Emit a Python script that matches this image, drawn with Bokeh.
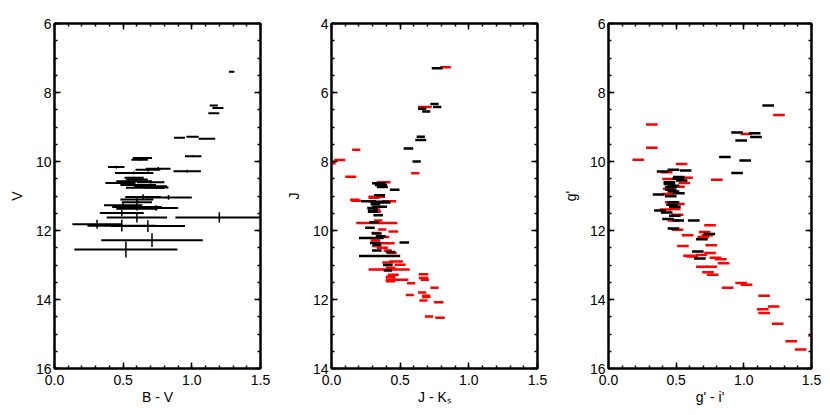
from bokeh.plotting import figure
from bokeh.models import (Range1d, LinearAxis, SingleIntervalTicker, NumeralTickFormatter,
                          CustomLabelingPolicy)
from bokeh.layouts import row
from bokeh.embed import file_html
from bokeh.resources import INLINE

# ---------------- Panel 1: V vs B-V ----------------
bv = [1.29, 1.16, 1.19, 1.16, 0.91, 1.005, 1.11, 1.01, 0.64, 0.62, 0.45, 0.755, 0.68, 0.966,
      0.58, 0.58, 0.60, 0.58, 0.48, 0.70, 0.61, 0.70, 0.75, 0.66, 0.645, 0.83, 0.60, 0.60,
      0.50, 0.60, 0.74, 0.60, 0.49, 0.60, 1.20, 0.31, 0.49, 0.68, 0.71, 0.52]
v = [7.40, 8.38, 8.45, 8.60, 9.31, 9.28, 9.34, 9.85, 9.90, 9.95, 10.16, 10.21, 10.24, 10.28,
     10.33, 10.47, 10.52, 10.57, 10.62, 10.60, 10.68, 10.72, 10.75, 10.76, 11.03, 11.04, 11.10, 11.18,
     11.27, 11.32, 11.35, 11.37, 11.49, 11.62, 11.62, 11.82, 11.86, 11.87, 12.28, 12.55]
bv_err = [0.02, 0.03, 0.04, 0.04, 0.04, 0.045, 0.06, 0.06, 0.07, 0.06, 0.06, 0.09, 0.09, 0.10,
          0.14, 0.07, 0.08, 0.13, 0.11, 0.10, 0.13, 0.12, 0.08, 0.14, 0.13, 0.17, 0.12, 0.11,
          0.14, 0.18, 0.16, 0.15, 0.16, 0.22, 0.32, 0.18, 0.25, 0.27, 0.37, 0.375]
v_err = [0.01, 0.01, 0.01, 0.01, 0.01, 0.01, 0.01, 0.03, 0.03, 0.03, 0.04, 0.05, 0.05, 0.04,
         0.04, 0.03, 0.03, 0.03, 0.04, 0.04, 0.03, 0.05, 0.05, 0.04, 0.08, 0.07, 0.05, 0.08,
         0.07, 0.05, 0.08, 0.05, 0.10, 0.15, 0.15, 0.13, 0.17, 0.17, 0.20, 0.23]

# ---------------- Panel 2: J vs J-Ks ----------------
jk_black = [0.77, 0.75, 0.77, 0.66, 0.69, 0.65, 0.65, 0.56, 0.62, 0.345, 0.36, 0.37, 0.46, 0.35,
            0.27, 0.35, 0.38, 0.32, 0.35, 0.30, 0.30, 0.30, 0.34, 0.31, 0.28, 0.33, 0.36, 0.29,
            0.53, 0.32, 0.33, 0.33, 0.43, 0.35, 0.41, 0.41]
j_black = [5.30, 6.33, 6.42, 6.47, 6.55, 7.28, 7.38, 7.62, 8.00, 8.63, 8.68, 8.74, 8.82, 8.98,
           9.15, 9.17, 9.19, 9.24, 9.31, 9.35, 9.42, 9.46, 9.56, 9.76, 9.92, 10.09, 10.17, 10.22,
           10.35, 10.36, 10.41, 10.58, 10.62, 10.74, 11.00, 11.16]
jk_black_err = [0.04, 0.03, 0.03, 0.03, 0.03, 0.03, 0.04, 0.035, 0.03, 0.05, 0.045, 0.04, 0.035, 0.04,
                0.055, 0.07, 0.05, 0.035, 0.055, 0.04, 0.035, 0.035, 0.035, 0.035, 0.035, 0.035, 0.035, 0.09,
                0.035, 0.04, 0.03, 0.035, 0.035, 0.15, 0.035, 0.03]

jk_red = [0.83, 0.68, 0.18, 0.06, 0.01, 0.61, 0.14, 0.38, 0.33, 0.31, 0.17, 0.18, 0.42, 0.33,
          0.34, 0.34, 0.33, 0.37, 0.45, 0.32, 0.37, 0.32, 0.40, 0.33, 0.37, 0.41, 0.44, 0.47,
          0.41, 0.50, 0.43, 0.42, 0.45, 0.67, 0.43, 0.67, 0.43, 0.50, 0.68, 0.43, 0.58, 0.75,
          0.66, 0.57, 0.69, 0.69, 0.67, 0.78, 0.71, 0.79]
j_red = [5.27, 6.42, 7.66, 7.96, 8.05, 8.34, 8.44, 8.60, 9.02, 9.05, 9.11, 9.14, 9.15, 9.40,
         9.46, 9.71, 9.78, 9.97, 10.03, 10.07, 10.19, 10.29, 10.37, 10.45, 10.50, 10.58, 10.65, 10.90,
         10.93, 10.99, 11.08, 11.13, 11.28, 11.27, 11.34, 11.38, 11.42, 11.43, 11.43, 11.47, 11.53, 11.66,
         11.80, 11.87, 11.89, 11.93, 12.03, 12.08, 12.49, 12.53]
jk_red_err = [0.04, 0.05, 0.03, 0.04, 0.02, 0.03, 0.04, 0.05, 0.06, 0.04, 0.035, 0.035, 0.05, 0.025,
              0.02, 0.03, 0.15, 0.03, 0.035, 0.03, 0.05, 0.035, 0.06, 0.035, 0.04, 0.03, 0.035, 0.05,
              0.04, 0.04, 0.035, 0.15, 0.04, 0.035, 0.035, 0.035, 0.035, 0.06, 0.03, 0.035, 0.03, 0.03,
              0.03, 0.03, 0.03, 0.03, 0.03, 0.035, 0.03, 0.035]

# ---------------- Panel 3: g' vs g'-i' ----------------
gi_black = [1.18, 0.95, 1.08, 1.09, 0.98, 0.86, 1.01, 0.48, 0.57, 0.40, 0.95, 0.52, 0.515, 0.54,
            0.45, 0.45, 0.48, 0.46, 0.46, 0.48, 0.52, 0.37, 0.46, 0.48, 0.47, 0.49, 0.38, 0.43,
            0.49, 0.44, 0.515, 0.63, 0.48, 0.745, 0.69, 0.66, 0.675]
g_black = [8.38, 9.16, 9.18, 9.29, 9.39, 9.87, 9.97, 10.24, 10.26, 10.29, 10.33, 10.45, 10.50, 10.55,
           10.60, 10.65, 10.70, 10.74, 10.82, 10.87, 10.92, 10.96, 11.01, 11.18, 11.25, 11.31, 11.42, 11.48,
           11.57, 11.67, 11.71, 11.71, 11.94, 12.10, 12.25, 12.61, 12.81]

gi_red = [1.26, 0.32, 1.02, 0.32, 0.22, 0.54, 0.43, 0.80, 0.58, 0.44, 0.56, 0.52, 0.445, 0.44,
          0.46, 0.52, 0.42, 0.49, 0.51, 0.48, 0.75, 0.51, 0.71, 0.585, 0.73, 0.70, 0.76, 0.55,
          0.75, 0.685, 0.595, 0.62, 0.79, 0.83, 0.85, 0.69, 0.76, 0.735, 0.77, 0.88, 0.98, 1.02,
          1.15, 1.22, 1.14, 1.15, 1.25, 1.35, 1.42, 1.52]
g_red = [8.65, 8.93, 9.20, 9.60, 9.95, 10.07, 10.31, 10.53, 10.47, 10.51, 10.62, 10.73, 10.79, 10.94,
         11.18, 11.23, 11.39, 11.38, 11.54, 11.71, 11.85, 11.98, 12.04, 12.14, 12.14, 12.19, 12.43, 12.45,
         12.65, 12.71, 12.73, 12.75, 12.79, 12.83, 12.95, 13.05, 13.05, 13.21, 13.28, 13.66, 13.52, 13.57,
         13.89, 14.20, 14.28, 14.39, 14.70, 15.21, 15.45, 15.04]
gi_err = 0.043

# tick / label settings
x_range_vals = (0.0, 1.5)
x_tick_step = 0.5
y_tick_step = 2

FONT = "Liberation Sans"
FRAME_W = 206
FRAME_H = 345
TOP = 23
BOTTOM = 46
HEIGHT = TOP + FRAME_H + BOTTOM

NO_LABELS = CustomLabelingPolicy(code="""
try { for (const i of Array.from(indices)) { indices.unset(i) } } catch (e) {}
return indices
""")


def style_axis(ax, labels=True):
    ax.major_tick_in = 6
    ax.major_tick_out = 0
    ax.minor_tick_in = 3
    ax.minor_tick_out = 0
    ax.axis_line_width = 2
    ax.axis_line_color = "black"
    ax.major_tick_line_width = 1.5
    ax.minor_tick_line_width = 1.5
    ax.major_tick_line_color = "black"
    ax.minor_tick_line_color = "black"
    ax.major_label_text_font = FONT
    ax.major_label_text_color = "black"
    ax.major_label_text_font_size = "14px"
    ax.axis_label_text_font = FONT
    ax.axis_label_text_font_size = "14px"
    ax.axis_label_text_font_style = "normal"
    ax.axis_label_text_color = "black"
    if not labels:
        ax.major_label_policy = NO_LABELS
        ax.major_label_standoff = 0


def make_fig(left, right, ylo, yhi, xlabel, ylabel):
    width = left + FRAME_W + right
    p = figure(width=width, height=HEIGHT,
               x_range=Range1d(*x_range_vals), y_range=Range1d(yhi, ylo),
               output_backend="svg", toolbar_location=None,
               x_axis_type=None, y_axis_type=None,
               min_border_left=left, min_border_right=right,
               min_border_top=TOP, min_border_bottom=BOTTOM)
    p.outline_line_color = "black"
    p.outline_line_width = 2
    p.background_fill_color = "white"
    p.border_fill_color = "white"
    xt = SingleIntervalTicker(interval=x_tick_step, num_minor_ticks=5)
    yt = SingleIntervalTicker(interval=y_tick_step, num_minor_ticks=4)

    xb = LinearAxis(ticker=xt, formatter=NumeralTickFormatter(format="0.0"), axis_label=xlabel)
    style_axis(xb)
    xb.major_label_standoff = 6
    xb.axis_label_standoff = 1
    p.add_layout(xb, "below")

    xa = LinearAxis(ticker=xt)
    style_axis(xa, labels=False)
    p.add_layout(xa, "above")

    yl = LinearAxis(ticker=yt, axis_label=ylabel)
    style_axis(yl)
    yl.major_label_standoff = 3
    yl.axis_label_standoff = 8
    p.add_layout(yl, "left")

    yr = LinearAxis(ticker=yt)
    style_axis(yr, labels=False)
    p.add_layout(yr, "right")
    return p


# Panel 1
p1 = make_fig(54, 21, 6, 16, "B - V", "V")
p1.segment(x0=[a - e for a, e in zip(bv, bv_err)], x1=[a + e for a, e in zip(bv, bv_err)],
           y0=v, y1=v, line_color="black", line_width=2)
p1.segment(x0=bv, x1=bv, y0=[a - e for a, e in zip(v, v_err)], y1=[a + e for a, e in zip(v, v_err)],
           line_color="black", line_width=1.5)

# Panel 2
p2 = make_fig(50, 21, 4, 14, "J - K\u209b", "J")
p2.segment(x0=[a - e for a, e in zip(jk_red, jk_red_err)], x1=[a + e for a, e in zip(jk_red, jk_red_err)],
           y0=j_red, y1=j_red, line_color="#ff0000", line_width=2.5)
p2.segment(x0=[a - e for a, e in zip(jk_black, jk_black_err)], x1=[a + e for a, e in zip(jk_black, jk_black_err)],
           y0=j_black, y1=j_black, line_color="black", line_width=2.5)

# Panel 3
p3 = make_fig(50, 16, 6, 16, "g' - i'", "g'")
p3.segment(x0=[a - gi_err for a in gi_red], x1=[a + gi_err for a in gi_red],
           y0=g_red, y1=g_red, line_color="#ff0000", line_width=2.5)
p3.segment(x0=[a - gi_err for a in gi_black], x1=[a + gi_err for a in gi_black],
           y0=g_black, y1=g_black, line_color="black", line_width=2.5)

layout = row(p1, p2, p3)
open("out.html", "w").write(file_html(layout, INLINE))
